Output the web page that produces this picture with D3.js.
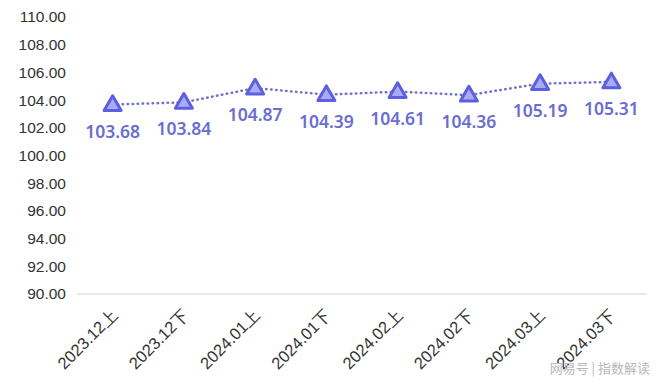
<!DOCTYPE html>
<html>
<head>
<meta charset="utf-8">
<script src="https://cdn.jsdelivr.net/npm/d3@7"></script>
<style>
  body { margin: 0; background: #fff; }
  svg { display: block; font-family: "Noto Sans", "Open Sans", sans-serif; }
</style>
</head>
<body>
<div id="chart"></div>
<script>
// periods and index values
var categories = ["2023.12上", "2023.12下", "2024.01上", "2024.01下", "2024.02上", "2024.02下", "2024.03上", "2024.03下"];
var values = [103.68, 103.84, 104.87, 104.39, 104.61, 104.36, 105.19, 105.31];
var yTicks = [90, 92, 94, 96, 98, 100, 102, 104, 106, 108, 110];

var W = 660, H = 383,
    margin = { top: 17, right: 13, bottom: 89, left: 77 },
    w = W - margin.left - margin.right,
    h = H - margin.top - margin.bottom,
    lineColor = "#6f71cc",
    markStroke = "#5c5fe0",
    markFill = "#a9acf5",
    labelColor = "#6a6dd2";

var svg = d3.select("#chart").append("svg")
    .attr("width", W)
    .attr("height", H);

var g = svg.append("g")
    .attr("transform", "translate(" + margin.left + "," + margin.top + ")");

var x = d3.scaleBand().domain(categories).range([0, w]);
var y = d3.scaleLinear().domain([90, 110]).range([h, 0]);

// baseline only, no other grid lines
g.append("line")
    .attr("x1", 0).attr("x2", w)
    .attr("y1", y(90)).attr("y2", y(90))
    .attr("stroke", "#e0e0e0")
    .attr("stroke-width", 1.5);

// y axis labels
var yAxis = g.append("g")
    .call(d3.axisLeft(y).tickValues(yTicks).tickFormat(d3.format(".2f")).tickSize(0).tickPadding(11));
yAxis.select(".domain").remove();
yAxis.selectAll("text")
    .attr("fill", "#333")
    .style("font-size", "15.5px");

// x axis labels, rotated
var xAxis = g.append("g")
    .attr("transform", "translate(0," + h + ")")
    .call(d3.axisBottom(x).tickSize(0));
xAxis.select(".domain").remove();
xAxis.selectAll("text")
    .attr("fill", "#333")
    .style("font-size", "16.5px")
    .style("text-anchor", "end")
    .attr("dy", null)
    .attr("y", 0)
    .attr("transform", "translate(6,22) rotate(-45)");

var cx = function (i) { return x(categories[i]) + x.bandwidth() / 2; };

// dotted line
var line = d3.line()
    .x(function (d, i) { return cx(i); })
    .y(function (d) { return y(d); });

g.append("path")
    .attr("d", line(values))
    .attr("fill", "none")
    .attr("stroke", lineColor)
    .attr("stroke-width", 2.5)
    .attr("stroke-dasharray", "0.5,4.5")
    .attr("stroke-linecap", "round");

// triangle markers
var tri = d3.symbol().type(d3.symbolTriangle).size(125);
g.selectAll(".mark")
    .data(values)
    .enter()
    .append("path")
    .attr("class", "mark")
    .attr("d", tri)
    .attr("transform", function (d, i) { return "translate(" + cx(i) + "," + (y(d) + 1) + ")"; })
    .attr("fill", markFill)
    .attr("stroke", markStroke)
    .attr("stroke-width", 3)
    .attr("stroke-linejoin", "round");

// value labels under the points
g.selectAll(".val")
    .data(values)
    .enter()
    .append("text")
    .attr("class", "val")
    .attr("x", function (d, i) { return cx(i); })
    .attr("y", function (d) { return y(d) + 33; })
    .attr("text-anchor", "middle")
    .attr("fill", labelColor)
    .style("font-size", "17.5px")
    .style("font-weight", "600")
    .text(function (d) { return d.toFixed(2); });

// watermark
svg.append("text")
    .attr("x", 650)
    .attr("y", 373)
    .attr("text-anchor", "end")
    .attr("fill", "#b8b8b8")
    .style("font-family", "'Noto Sans CJK SC', sans-serif")
    .style("font-size", "13px")
    .text("网易号 | 指数解读");
</script>
</body>
</html>
